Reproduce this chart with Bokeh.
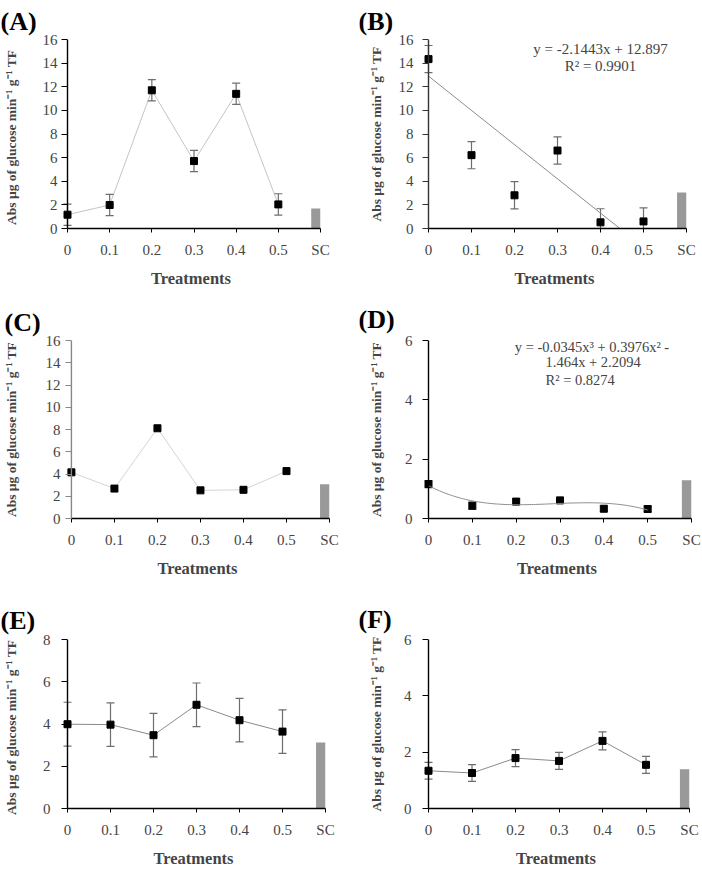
import numpy as np
from bokeh.plotting import figure
from bokeh.models import Range1d, FixedTicker, Label, Span
from bokeh.layouts import column, row
from bokeh.embed import file_html
from bokeh.resources import INLINE

# ---------------- data ----------------
treatments = ["0", "0.1", "0.2", "0.3", "0.4", "0.5", "SC"]

a_mean = [1.17, 1.99, 11.7, 5.71, 11.4, 2.04]
a_err = [0.9, 0.9, 0.9, 0.9, 0.9, 0.9]
a_sc = 1.69

b_mean = [14.34, 6.21, 2.81, 6.6, 0.52, 0.6]
b_err = [1.15, 1.15, 1.15, 1.15, 1.15, 1.15]
b_sc = 3.05
b_trend_intercept = 12.897
b_trend_zero = 4.45
b_fit_text = ["y = -2.1443x + 12.897", "R\u00b2 = 0.9901"]

c_mean = [4.15, 2.69, 8.11, 2.53, 2.58, 4.26]
c_sc = 3.08

d_mean = [1.16, 0.43, 0.57, 0.61, 0.33, 0.32]
d_err = [0.12, 0.12, 0.1, 0.1, 0.1, 0.1]
d_sc = 1.29
d_poly = [-0.0345, 0.3976, -1.464, 2.2094]
d_fit_text = ["y = -0.0345x\u00b3 + 0.3976x\u00b2 -", "1.464x + 2.2094", "R\u00b2 = 0.8274"]

e_mean = [3.99, 3.97, 3.47, 4.91, 4.18, 3.64]
e_err = [1.04, 1.03, 1.03, 1.03, 1.03, 1.03]
e_sc = 3.12

f_mean = [1.34, 1.26, 1.79, 1.69, 2.4, 1.55]
f_err = [0.3, 0.3, 0.3, 0.3, 0.32, 0.3]
f_sc = 1.39

FONT = "Liberation Serif"
YLABEL = "Abs \u00b5g of glucose min\u207b\u00b9 g\u207b\u00b9 TF"
YLABEL2 = "Abs \u00b5g of glucose min\u207b\u00b9  g\u207b\u00b9  TF"
PAD = 6  # px between frame edge and the y axis line (room for markers at x=0)
TAG_H = 30  # approx. height of the 26px panel tag


def make_panel(tag, mean, err, sc, ymax, ystep, geom, tag_pos, conn_color,
               ylabel=YLABEL, lab_standoff=4, ylab_standoff=14, yaxis_color="black"):
    W, H, axl, axr, top, bottom = geom
    n_sc = len(treatments) - 1
    ppu = (axr - axl) / n_sc
    pad = PAD / ppu
    p = figure(width=W, height=H, x_range=Range1d(-pad, n_sc), y_range=Range1d(0, ymax),
               output_backend="svg", toolbar_location=None,
               min_border_left=axl - PAD, min_border_right=W - axr,
               min_border_top=top, min_border_bottom=H - bottom)
    p.xgrid.visible = False
    p.ygrid.visible = False
    p.outline_line_color = None
    p.background_fill_color = "white"
    p.border_fill_color = "white"

    # panel tag as a left-aligned title pushed into the left border
    tx, ty = tag_pos
    p.title.text = tag
    p.title.align = "left"
    p.title.text_font = FONT
    p.title.text_font_style = "bold"
    p.title.text_font_size = "26px"
    p.title.text_color = "black"
    p.title.offset = tx - (axl - PAD)
    p.title.standoff = max(0, top - ty - TAG_H)

    xs = list(range(len(mean)))
    if conn_color is not None:
        p.line(xs, mean, line_color=conn_color, line_width=1)
    if err is not None:
        lo = [m - e for m, e in zip(mean, err)]
        hi = [m + e for m, e in zip(mean, err)]
        p.segment(x0=xs, y0=lo, x1=xs, y1=hi, line_color="#6e6e6e", line_width=1.2)
        p.scatter(xs, hi, marker="dash", size=8, line_color="#6e6e6e", line_width=1.2)
        p.scatter(xs, lo, marker="dash", size=8, line_color="#6e6e6e", line_width=1.2)
    bar_w = 0.22
    p.vbar(x=[n_sc - bar_w / 2], top=[sc], bottom=0, width=bar_w,
           fill_color="#999999", line_color=None)

    # x axis
    xa = p.xaxis[0]
    xa.ticker = FixedTicker(ticks=list(range(len(treatments))))
    xa.major_label_overrides = {i: t for i, t in enumerate(treatments)}
    xa.bounds = (0, n_sc)
    xa.axis_label = "Treatments"
    xa.axis_label_text_font = FONT
    xa.axis_label_text_font_style = "bold"
    xa.axis_label_text_font_size = "16.5px"
    xa.axis_label_standoff = 8
    xa.major_label_text_font = FONT
    xa.major_label_text_font_size = "15px"
    xa.major_label_standoff = 9
    xa.major_tick_out = 4
    xa.major_tick_in = 0
    xa.minor_tick_line_color = None
    xa.axis_line_width = 1.4
    xa.axis_line_color = "black"
    xa.major_tick_line_color = "black"

    # y axis: ticks reach from the frame edge to the axis line at x=0
    ya = p.yaxis[0]
    ya.ticker = FixedTicker(ticks=list(range(0, ymax + 1, ystep)))
    ya.axis_label = ylabel
    ya.axis_label_text_font = FONT
    ya.axis_label_text_font_style = "bold"
    ya.axis_label_text_font_size = "13.5px"
    ya.axis_label_standoff = ylab_standoff
    ya.major_label_text_font = FONT
    ya.major_label_text_font_size = "15px"
    ya.major_label_standoff = lab_standoff
    ya.major_tick_out = 0
    ya.major_tick_in = PAD
    ya.minor_tick_line_color = None
    ya.axis_line_color = None
    ya.major_tick_line_color = yaxis_color
    ya.major_tick_line_width = 1.2
    p.add_layout(Span(location=0, dimension="height", line_color=yaxis_color, line_width=1.4))

    # markers on top
    p.scatter(xs, mean, marker="square", size=7, fill_color="black", line_color="black")
    return p


W = 351
pa = make_panel("(A)", a_mean, a_err, a_sc, 16, 2, (W, 290, 67, 320, 37, 233), (0, 0),
                "#c4c4c4", ylabel=YLABEL2, lab_standoff=4, ylab_standoff=21)
pb = make_panel("(B)", b_mean, b_err, b_sc, 16, 2, (W, 290, 77, 335, 38, 233), (7, 0),
                None, lab_standoff=9, ylab_standoff=12, yaxis_color="#333333")
pc = make_panel("(C)", c_mean, None, c_sc, 16, 2, (W, 290, 67, 329, 44, 237), (0, 6),
                "#d4d4d4", lab_standoff=5, ylab_standoff=24, yaxis_color="#888888")
pd = make_panel("(D)", d_mean, d_err, d_sc, 6, 2, (W, 290, 77, 340, 50, 239), (7, 6),
                None, lab_standoff=10, ylab_standoff=18)
pe = make_panel("(E)", e_mean, e_err, e_sc, 8, 2, (W, 290, 67, 325, 50, 239), (0, 11),
                "#8a8a8a", ylabel=YLABEL2, lab_standoff=11, ylab_standoff=21)
pf = make_panel("(F)", f_mean, f_err, f_sc, 6, 2, (W, 290, 77, 338, 59, 242), (7, 18),
                "#8a8a8a", lab_standoff=11, ylab_standoff=17)

# B: linear trend line
bx = np.array([0.0, b_trend_zero])
pb.line(bx, b_trend_intercept * (1 - bx / b_trend_zero), line_color="#8c8c8c", line_width=1)
pb.add_layout(Label(x=4.0, y=15.2, text=b_fit_text[0], text_font=FONT, text_font_size="15px",
                    text_align="center", text_baseline="middle"))
pb.add_layout(Label(x=4.0, y=13.75, text=b_fit_text[1], text_font=FONT, text_font_size="15px",
                    text_align="center", text_baseline="middle"))

# D: cubic trend (Excel x = position + 1)
dx = np.linspace(0, 5, 120)
dt = dx + 1
dy = d_poly[0] * dt ** 3 + d_poly[1] * dt ** 2 + d_poly[2] * dt + d_poly[3]
pd.line(dx, dy, line_color="#8c8c8c", line_width=1)
pd.add_layout(Label(x=1.97, y=5.79, text=d_fit_text[0], text_font=FONT, text_font_size="14.5px",
                    text_align="left", text_baseline="middle"))
pd.add_layout(Label(x=2.67, y=5.29, text=d_fit_text[1], text_font=FONT, text_font_size="14.5px",
                    text_align="left", text_baseline="middle"))
pd.add_layout(Label(x=2.67, y=4.68, text=d_fit_text[2], text_font=FONT, text_font_size="14.5px",
                    text_align="left", text_baseline="middle"))

layout = column(row(pa, pb), row(pc, pd), row(pe, pf))
open("out.html", "w").write(file_html(layout, INLINE))
